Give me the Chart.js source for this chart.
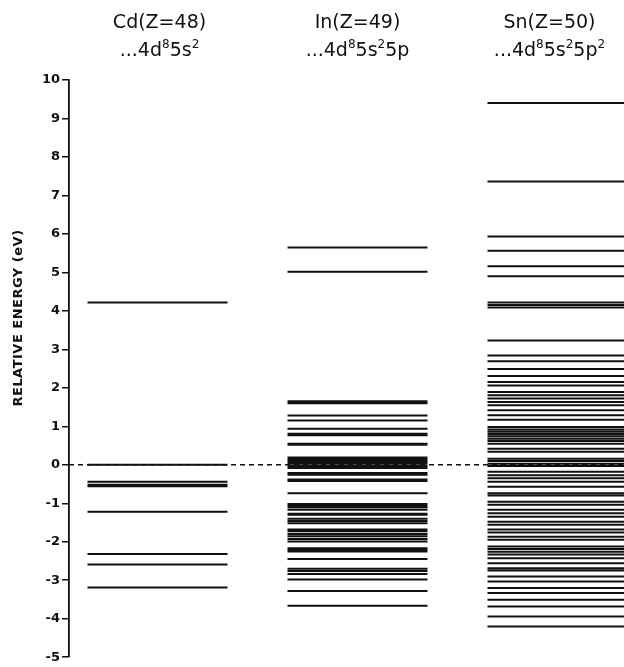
<!DOCTYPE html>
<html>
<head>
<meta charset="utf-8">
<script src="https://cdn.jsdelivr.net/npm/chart.js@4.4.1/dist/chart.umd.min.js"></script>
<style>
  html, body { margin: 0; padding: 0; background: #fff; }
  #wrap { width: 624px; height: 667px; }
</style>
</head>
<body>
<div id="wrap"><canvas id="levels" width="624" height="667"></canvas></div>
<script>
// Level energies (eV), per element
const cdLevels = [4.22, 0, -0.44, -0.52, -0.56, -1.22, -2.32, -2.59, -3.19];

const inLevels = [
  5.65, 5.02,
  1.65, 1.60, 1.28, 1.15, 0.94, 0.81, 0.77, 0.55, 0.52,
  0.19, 0.15, 0.10, 0.05, 0.03, -0.03, -0.08, -0.21, -0.26, -0.38, -0.42, -0.74,
  -1.02, -1.06, -1.10, -1.17, -1.27, -1.30, -1.40, -1.46, -1.52, -1.68, -1.73, -1.80,
  -1.86, -1.93, -1.99, -2.17, -2.21, -2.25, -2.45, -2.70, -2.76, -2.84, -2.98,
  -3.28, -3.66,
];

const snLevels = [
  9.40, 7.36, 5.93, 5.56, 5.16, 4.90, 4.22, 4.15, 4.09, 3.23,
  2.84, 2.69, 2.49, 2.31, 2.15, 2.06, 1.89, 1.81, 1.72, 1.63, 1.55, 1.42, 1.29, 1.17,
  0.98, 0.92, 0.86, 0.80, 0.74, 0.68, 0.62, 0.55, 0.42, 0.34,
  0.16, 0.10, 0.03, -0.03, -0.18, -0.27, -0.35, -0.44, -0.57, -0.74, -0.80,
  -0.96, -1.04, -1.17, -1.26, -1.35, -1.48, -1.56, -1.68, -1.76, -1.87, -1.95,
  -2.12, -2.19, -2.26, -2.33, -2.43, -2.56, -2.69, -2.75, -2.90, -3.03, -3.20,
  -3.33, -3.51, -3.68, -3.94, -4.20,
];

// Column headers: element name and outer configuration (superscripts flagged)
const headerNames = ['Cd(Z=48)', 'In(Z=49)', 'Sn(Z=50)'];
const headerConfigs = [
  [['...4d', 0], ['8', 1], ['5s', 0], ['2', 1]],
  [['...4d', 0], ['8', 1], ['5s', 0], ['2', 1], ['5p', 0]],
  [['...4d', 0], ['8', 1], ['5s', 0], ['2', 1], ['5p', 0], ['2', 1]],
];

const Y_MIN = -5;
const Y_MAX = 10;
const AXIS_TITLE = 'RELATIVE ENERGY (eV)';

// Layout (x in column units, one unit = one column pitch)
const columnCenters = [1, 2, 3];
const headerCenters = [1.01, 2.0, 2.96];
const HALF_WIDTH = 0.35;
const X_MIN = 0.5575;
const X_MAX = 3.3325;
const FONT = '"DejaVu Sans", "Liberation Sans", sans-serif';

// Each level becomes a short horizontal segment; null y breaks the line
function segments(levels, center) {
  const pts = [];
  levels.forEach(e => {
    pts.push({ x: center - HALF_WIDTH, y: e });
    pts.push({ x: center + HALF_WIDTH, y: e });
    pts.push({ x: center, y: null });
  });
  return pts;
}

const levelStyle = {
  type: 'line',
  borderColor: '#111',
  borderWidth: 2,
  pointRadius: 0,
  spanGaps: false,
  fill: false,
};

function drawRich(ctx, parts, cx, baseline, size, supSize) {
  const widths = parts.map(([t, sup]) => {
    ctx.font = `${sup ? supSize : size}px ${FONT}`;
    return ctx.measureText(t).width;
  });
  let x = cx - widths.reduce((a, b) => a + b, 0) / 2;
  parts.forEach(([t, sup], i) => {
    ctx.font = `${sup ? supSize : size}px ${FONT}`;
    ctx.fillText(t, x, sup ? baseline - 8 : baseline);
    x += widths[i];
  });
}

const headerPlugin = {
  id: 'headers',
  afterDraw(chart) {
    const { ctx, scales } = chart;
    ctx.save();
    ctx.fillStyle = '#111';
    ctx.textAlign = 'left';
    ctx.textBaseline = 'alphabetic';
    headerCenters.forEach((c, i) => {
      const px = scales.x.getPixelForValue(c);
      drawRich(ctx, [[headerNames[i], 0]], px, 28, 19, 12);
      drawRich(ctx, headerConfigs[i], px, 56, 19, 12);
    });
    // rotated y-axis title
    ctx.translate(19, 318);
    ctx.rotate(-Math.PI / 2);
    ctx.textAlign = 'center';
    ctx.textBaseline = 'middle';
    ctx.font = `bold 13px ${FONT}`;
    if ('letterSpacing' in ctx) ctx.letterSpacing = '0.5px';
    ctx.fillText(AXIS_TITLE, 0, 0);
    ctx.restore();
  },
};

new Chart(document.getElementById('levels'), {
  type: 'line',
  data: {
    datasets: [
      { ...levelStyle, label: 'Cd', data: segments(cdLevels, columnCenters[0]) },
      { ...levelStyle, label: 'In', data: segments(inLevels, columnCenters[1]) },
      { ...levelStyle, label: 'Sn', data: segments(snLevels, columnCenters[2]) },
      {
        type: 'line',
        label: 'zero',
        data: [{ x: X_MIN, y: 0 }, { x: X_MAX, y: 0 }],
        borderColor: '#111',
        borderWidth: 1.5,
        borderDash: [5, 4],
        pointRadius: 0,
      },
    ],
  },
  options: {
    responsive: false,
    animation: false,
    layout: { padding: { top: 80, bottom: 8, left: 0, right: 0 } },
    plugins: { legend: { display: false }, tooltip: { enabled: false } },
    scales: {
      x: { type: 'linear', min: X_MIN, max: X_MAX, display: false },
      y: {
        type: 'linear',
        min: Y_MIN,
        max: Y_MAX,
        afterFit: s => { s.width = 69; },
        ticks: {
          stepSize: 1,
          color: '#111',
          padding: 2,
          font: { family: FONT, size: 13, weight: 'bold' },
        },
        grid: {
          drawOnChartArea: false,
          drawTicks: true,
          tickLength: 7,
          color: '#111',
          lineWidth: 1.5,
        },
        border: { display: true, color: '#111', width: 1.8 },
      },
    },
  },
  plugins: [headerPlugin],
});
</script>
</body>
</html>
